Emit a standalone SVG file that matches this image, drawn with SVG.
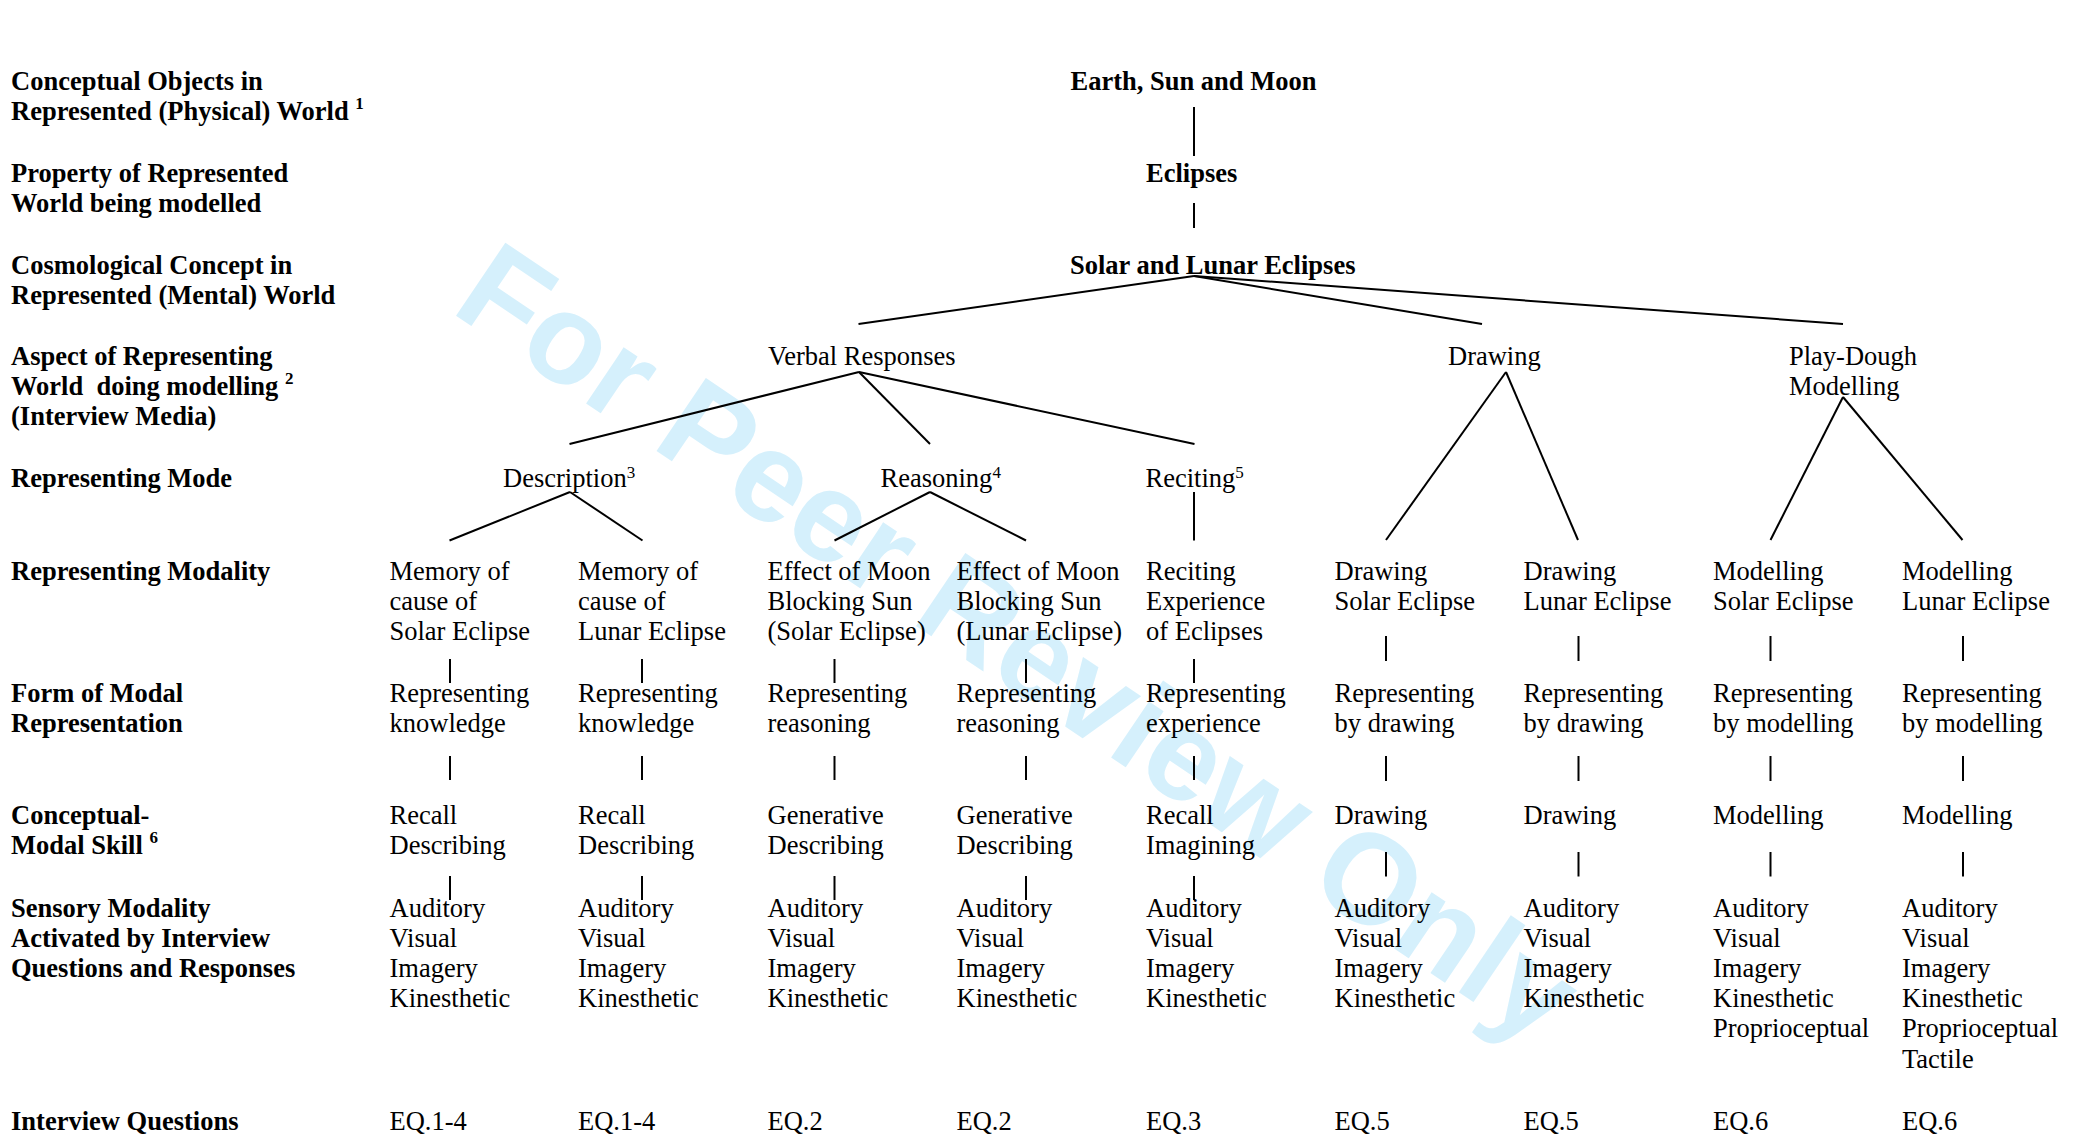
<svg xmlns="http://www.w3.org/2000/svg" width="2078" height="1137" viewBox="0 0 2078 1137">
<style>
text { font-family: "Liberation Serif", "Times New Roman", serif; font-size: 26.5px; fill: #000; }
.b { font-weight: bold; }
.sup { font-size: 17px; }
.wm { font-family: "Liberation Sans", Arial, sans-serif; font-size: 128px; font-weight: bold; fill: #d5f0fc; }
.conn line { stroke: #000; stroke-width: 2; stroke-linecap: butt; }
</style>
<rect width="2078" height="1137" fill="#fff"/>
<g id="watermark"><text class="wm" transform="translate(449,311) rotate(34)">For Peer Review Only</text></g>

<g id="row-labels" transform="translate(0,1.5)">
<g id="lbl-objects"><text class="b" x="11" y="88">Conceptual Objects in</text><text class="b" x="11" y="118">Represented (Physical) World <tspan class="sup" dy="-11">1</tspan></text></g>
<g id="lbl-property"><text class="b" x="11" y="180">Property of Represented</text><text class="b" x="11" y="210">World being modelled</text></g>
<g id="lbl-concept"><text class="b" x="11" y="272">Cosmological Concept in</text><text class="b" x="11" y="302">Represented (Mental) World</text></g>
<g id="lbl-aspect"><text class="b" x="11" y="363">Aspect of Representing</text><text class="b" x="11" y="393" style="white-space:pre">World  doing modelling <tspan class="sup" dy="-11">2</tspan></text><text class="b" x="11" y="423">(Interview Media)</text></g>
<g id="lbl-mode"><text class="b" x="11" y="485">Representing Mode</text></g>
<g id="lbl-modality"><text class="b" x="11" y="578">Representing Modality</text></g>
<g id="lbl-form"><text class="b" x="11" y="700">Form of Modal</text><text class="b" x="11" y="730">Representation</text></g>
<g id="lbl-skill"><text class="b" x="11" y="822">Conceptual-</text><text class="b" x="11" y="852">Modal Skill <tspan class="sup" dy="-11">6</tspan></text></g>
<g id="lbl-sensory"><text class="b" x="11" y="915">Sensory Modality</text><text class="b" x="11" y="945">Activated by Interview</text><text class="b" x="11" y="975">Questions and Responses</text></g>
<g id="lbl-eq"><text class="b" x="11" y="1128">Interview Questions</text></g>
</g>

<g id="connectors" class="conn">
<line x1="1194" y1="107" x2="1194" y2="156"/>
<line x1="1194" y1="203" x2="1194" y2="228"/>
<line x1="1194" y1="276" x2="858.5" y2="324"/>
<line x1="1194" y1="276" x2="1482" y2="324"/>
<line x1="1194" y1="276" x2="1843" y2="324"/>
<line x1="859" y1="372" x2="569.5" y2="444"/>
<line x1="859" y1="372" x2="930" y2="444"/>
<line x1="859" y1="372" x2="1194.5" y2="444"/>
<line x1="1506" y1="372" x2="1386" y2="540"/>
<line x1="1506" y1="372" x2="1578" y2="540"/>
<line x1="1843" y1="397" x2="1770.5" y2="540"/>
<line x1="1843" y1="397" x2="1962.5" y2="540"/>
<line x1="570" y1="492" x2="449.5" y2="540.5"/>
<line x1="570" y1="492" x2="642.5" y2="540.5"/>
<line x1="930" y1="492" x2="834.5" y2="540.5"/>
<line x1="930" y1="492" x2="1026" y2="540.5"/>
<line x1="1194" y1="492" x2="1194" y2="540.5"/>
<line x1="450" y1="659" x2="450" y2="683"/><line x1="450" y1="756" x2="450" y2="780"/><line x1="450" y1="876" x2="450" y2="900"/>
<line x1="642" y1="659" x2="642" y2="683"/><line x1="642" y1="756" x2="642" y2="780"/><line x1="642" y1="876" x2="642" y2="900"/>
<line x1="834.5" y1="659" x2="834.5" y2="683"/><line x1="834.5" y1="756" x2="834.5" y2="780"/><line x1="834.5" y1="876" x2="834.5" y2="900"/>
<line x1="1026" y1="659" x2="1026" y2="683"/><line x1="1026" y1="756" x2="1026" y2="780"/><line x1="1026" y1="876" x2="1026" y2="900"/>
<line x1="1194" y1="659" x2="1194" y2="683"/><line x1="1194" y1="756" x2="1194" y2="780"/><line x1="1194" y1="876" x2="1194" y2="900"/>
<line x1="1386" y1="636" x2="1386" y2="661"/><line x1="1386" y1="756" x2="1386" y2="781"/><line x1="1386" y1="852" x2="1386" y2="876.5"/>
<line x1="1578.5" y1="636" x2="1578.5" y2="661"/><line x1="1578.5" y1="756" x2="1578.5" y2="781"/><line x1="1578.5" y1="852" x2="1578.5" y2="876.5"/>
<line x1="1770.5" y1="636" x2="1770.5" y2="661"/><line x1="1770.5" y1="756" x2="1770.5" y2="781"/><line x1="1770.5" y1="852" x2="1770.5" y2="876.5"/>
<line x1="1963" y1="636" x2="1963" y2="661"/><line x1="1963" y1="756" x2="1963" y2="781"/><line x1="1963" y1="852" x2="1963" y2="876.5"/>
</g>

<g id="nodes" transform="translate(0,1.5)">
<g id="n-earth"><text class="b" x="1070.5" y="88">Earth, Sun and Moon</text></g>
<g id="n-eclipses"><text class="b" x="1146" y="180">Eclipses</text></g>
<g id="n-solar-lunar"><text class="b" x="1070" y="272">Solar and Lunar Eclipses</text></g>
<g id="n-verbal"><text x="768" y="363">Verbal Responses</text></g>
<g id="n-drawing"><text x="1448" y="363">Drawing</text></g>
<g id="n-playdough"><text x="1789" y="363">Play-Dough</text><text x="1789" y="393">Modelling</text></g>
<g id="n-description"><text x="503" y="485">Description<tspan class="sup" dy="-9">3</tspan></text></g>
<g id="n-reasoning"><text x="880.5" y="485">Reasoning<tspan class="sup" dy="-9">4</tspan></text></g>
<g id="n-reciting"><text x="1145.5" y="485">Reciting<tspan class="sup" dy="-9">5</tspan></text></g>

<g id="col1">
<g id="c1-modality"><text x="389.5" y="578">Memory of</text><text x="389.5" y="608">cause of</text><text x="389.5" y="638">Solar Eclipse</text></g>
<g id="c1-form"><text x="389.5" y="700">Representing</text><text x="389.5" y="730">knowledge</text></g>
<g id="c1-skill"><text x="389.5" y="822">Recall</text><text x="389.5" y="852">Describing</text></g>
<g id="c1-sensory"><text x="389.5" y="915">Auditory</text><text x="389.5" y="945">Visual</text><text x="389.5" y="975">Imagery</text><text x="389.5" y="1005">Kinesthetic</text></g>
<g id="c1-eq"><text x="389.5" y="1128">EQ.1-4</text></g>
</g>
<g id="col2">
<g id="c2-modality"><text x="578" y="578">Memory of</text><text x="578" y="608">cause of</text><text x="578" y="638">Lunar Eclipse</text></g>
<g id="c2-form"><text x="578" y="700">Representing</text><text x="578" y="730">knowledge</text></g>
<g id="c2-skill"><text x="578" y="822">Recall</text><text x="578" y="852">Describing</text></g>
<g id="c2-sensory"><text x="578" y="915">Auditory</text><text x="578" y="945">Visual</text><text x="578" y="975">Imagery</text><text x="578" y="1005">Kinesthetic</text></g>
<g id="c2-eq"><text x="578" y="1128">EQ.1-4</text></g>
</g>
<g id="col3">
<g id="c3-modality"><text x="767.5" y="578">Effect of Moon</text><text x="767.5" y="608">Blocking Sun</text><text x="767.5" y="638">(Solar Eclipse)</text></g>
<g id="c3-form"><text x="767.5" y="700">Representing</text><text x="767.5" y="730">reasoning</text></g>
<g id="c3-skill"><text x="767.5" y="822">Generative</text><text x="767.5" y="852">Describing</text></g>
<g id="c3-sensory"><text x="767.5" y="915">Auditory</text><text x="767.5" y="945">Visual</text><text x="767.5" y="975">Imagery</text><text x="767.5" y="1005">Kinesthetic</text></g>
<g id="c3-eq"><text x="767.5" y="1128">EQ.2</text></g>
</g>
<g id="col4">
<g id="c4-modality"><text x="956.5" y="578">Effect of Moon</text><text x="956.5" y="608">Blocking Sun</text><text x="956.5" y="638">(Lunar Eclipse)</text></g>
<g id="c4-form"><text x="956.5" y="700">Representing</text><text x="956.5" y="730">reasoning</text></g>
<g id="c4-skill"><text x="956.5" y="822">Generative</text><text x="956.5" y="852">Describing</text></g>
<g id="c4-sensory"><text x="956.5" y="915">Auditory</text><text x="956.5" y="945">Visual</text><text x="956.5" y="975">Imagery</text><text x="956.5" y="1005">Kinesthetic</text></g>
<g id="c4-eq"><text x="956.5" y="1128">EQ.2</text></g>
</g>
<g id="col5">
<g id="c5-modality"><text x="1146" y="578">Reciting</text><text x="1146" y="608">Experience</text><text x="1146" y="638">of Eclipses</text></g>
<g id="c5-form"><text x="1146" y="700">Representing</text><text x="1146" y="730">experience</text></g>
<g id="c5-skill"><text x="1146" y="822">Recall</text><text x="1146" y="852">Imagining</text></g>
<g id="c5-sensory"><text x="1146" y="915">Auditory</text><text x="1146" y="945">Visual</text><text x="1146" y="975">Imagery</text><text x="1146" y="1005">Kinesthetic</text></g>
<g id="c5-eq"><text x="1146" y="1128">EQ.3</text></g>
</g>
<g id="col6">
<g id="c6-modality"><text x="1334.5" y="578">Drawing</text><text x="1334.5" y="608">Solar Eclipse</text></g>
<g id="c6-form"><text x="1334.5" y="700">Representing</text><text x="1334.5" y="730">by drawing</text></g>
<g id="c6-skill"><text x="1334.5" y="822">Drawing</text></g>
<g id="c6-sensory"><text x="1334.5" y="915">Auditory</text><text x="1334.5" y="945">Visual</text><text x="1334.5" y="975">Imagery</text><text x="1334.5" y="1005">Kinesthetic</text></g>
<g id="c6-eq"><text x="1334.5" y="1128">EQ.5</text></g>
</g>
<g id="col7">
<g id="c7-modality"><text x="1523.5" y="578">Drawing</text><text x="1523.5" y="608">Lunar Eclipse</text></g>
<g id="c7-form"><text x="1523.5" y="700">Representing</text><text x="1523.5" y="730">by drawing</text></g>
<g id="c7-skill"><text x="1523.5" y="822">Drawing</text></g>
<g id="c7-sensory"><text x="1523.5" y="915">Auditory</text><text x="1523.5" y="945">Visual</text><text x="1523.5" y="975">Imagery</text><text x="1523.5" y="1005">Kinesthetic</text></g>
<g id="c7-eq"><text x="1523.5" y="1128">EQ.5</text></g>
</g>
<g id="col8">
<g id="c8-modality"><text x="1713" y="578">Modelling</text><text x="1713" y="608">Solar Eclipse</text></g>
<g id="c8-form"><text x="1713" y="700">Representing</text><text x="1713" y="730">by modelling</text></g>
<g id="c8-skill"><text x="1713" y="822">Modelling</text></g>
<g id="c8-sensory"><text x="1713" y="915">Auditory</text><text x="1713" y="945">Visual</text><text x="1713" y="975">Imagery</text><text x="1713" y="1005">Kinesthetic</text><text x="1713" y="1035.5">Proprioceptual</text></g>
<g id="c8-eq"><text x="1713" y="1128">EQ.6</text></g>
</g>
<g id="col9">
<g id="c9-modality"><text x="1902" y="578">Modelling</text><text x="1902" y="608">Lunar Eclipse</text></g>
<g id="c9-form"><text x="1902" y="700">Representing</text><text x="1902" y="730">by modelling</text></g>
<g id="c9-skill"><text x="1902" y="822">Modelling</text></g>
<g id="c9-sensory"><text x="1902" y="915">Auditory</text><text x="1902" y="945">Visual</text><text x="1902" y="975">Imagery</text><text x="1902" y="1005">Kinesthetic</text><text x="1902" y="1035.5">Proprioceptual</text><text x="1902" y="1066">Tactile</text></g>
<g id="c9-eq"><text x="1902" y="1128">EQ.6</text></g>
</g>
</g>
</svg>
